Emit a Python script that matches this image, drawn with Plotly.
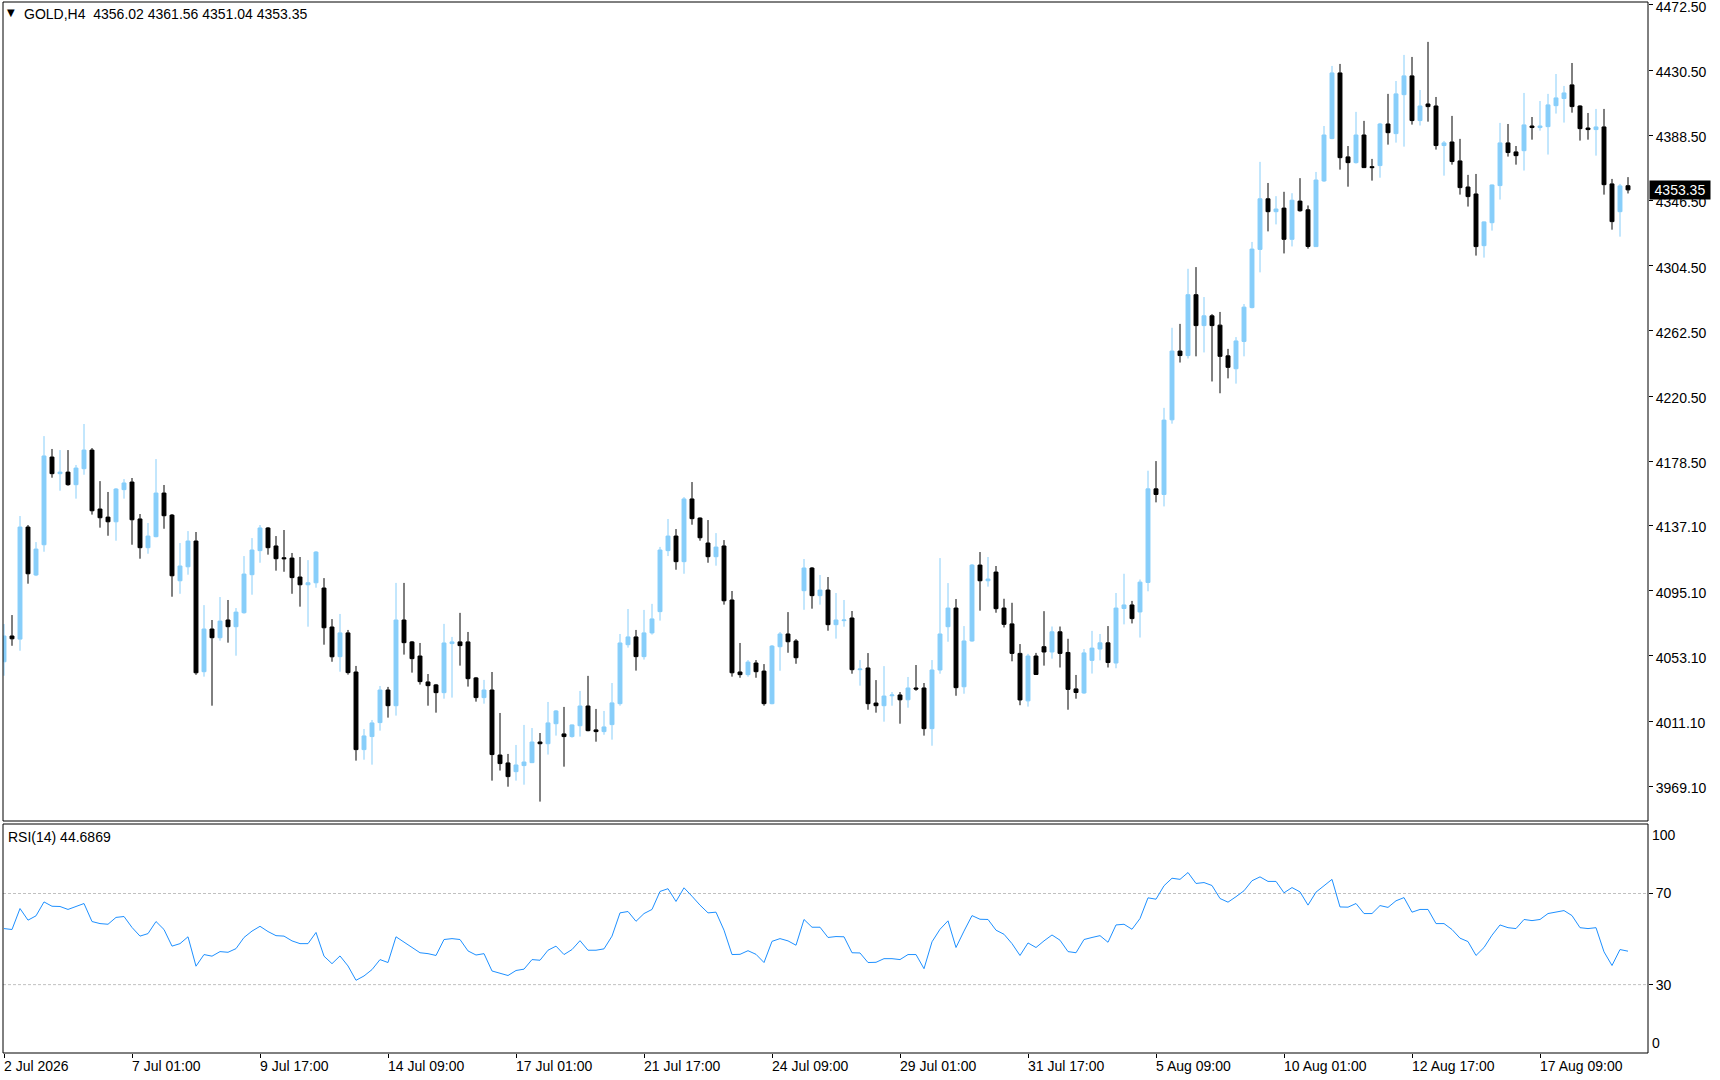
import plotly.graph_objects as go

# ---------------- data ----------------
symbol_header = "GOLD,H4  4356.02 4361.56 4351.04 4353.35"
rsi_header = "RSI(14) 44.6869"
last_price = 4353.35
last_price_text = "4353.35"

opens = [4049.3,4065.9,4063.9,4136.1,4105.2,4124.7,4181.2,4170.5,4171.5,4163.4,
         4173.7,4185.7,4147.7,4142.5,4139.5,4160.2,4165.1,4141.3,4122.8,4129.9,
         4158.0,4143.8,4101.5,4110.5,4127.1,4042.9,4070.4,4064.8,4076.2,4071.9,
         4080.9,4105.4,4120.9,4135.5,4123.9,4116.3,4116.1,4103.9,4098.9,4100.2,
         4096.8,4071.7,4052.6,4067.9,4042.7,3992.7,4001.1,4010.1,4031.1,4021.0,
         4076.2,4062.1,4053.0,4036.3,4034.4,4029.4,4061.0,4062.1,4062.1,4038.9,
         4026.2,4031.1,3989.2,3984.1,3978.5,3982.4,3984.3,3997.6,3996.5,4009.4,
         4002.8,4001.1,4008.1,4020.8,4005.4,4004.3,4008.8,4022.3,4060.3,4065.3,
         4052.6,4067.9,4081.6,4120.9,4130.3,4113.8,4154.2,4141.9,4125.8,4117.0,
         4123.9,4089.1,4042.7,4041.0,4048.5,4043.3,4022.3,4059.0,4067.2,4062.7,
         4095.1,4109.7,4091.9,4095.5,4073.2,4075.8,4077.5,4044.2,4045.3,4022.7,
         4021.0,4027.4,4027.9,4024.8,4032.4,4032.4,4006.2,4044.0,4071.9,4083.9,
         4033.2,4062.7,4111.6,4101.5,4107.1,4083.9,4073.7,4054.7,4024.1,4053.0,
         4059.0,4055.6,4068.6,4055.3,4031.8,4029.2,4050.2,4057.5,4061.5,4048.5,
         4083.6,4085.9,4081.4,4100.4,4160.7,4157.1,4205.2,4249.5,4246.6,4285.8,
         4265.9,4272.2,4266.2,4246.4,4238.1,4255.7,4277.5,4315.0,4347.6,4339.3,
         4341.6,4321.5,4346.1,4340.5,4316.8,4359.1,4386.4,4428.7,4374.6,4370.9,
         4388.7,4368.3,4369.0,4395.8,4389.6,4414.7,4426.8,4398.0,4408.7,4407.4,
         4381.9,4384.2,4372.0,4355.2,4350.7,4317.4,4332.2,4356.1,4383.6,4377.8,
         4378.6,4394.5,4393.5,4394.1,4407.6,4412.2,4421.0,4407.4,4393.2,4392.2,
         4393.9,4357.2,4339.3,4356.02]
highs = [4073.6,4079.4,4143.2,4137.4,4126.4,4194.7,4186.4,4185.7,4185.7,4176.1,
         4202.5,4187.0,4165.7,4158.7,4161.2,4167.0,4167.7,4144.5,4138.7,4179.9,
         4163.2,4144.5,4125.8,4133.5,4132.9,4085.8,4076.2,4091.0,4089.1,4083.9,
         4117.4,4129.0,4137.4,4136.1,4130.3,4134.2,4119.4,4116.8,4114.8,4120.6,
         4103.2,4076.8,4080.1,4069.8,4046.6,4006.0,4011.8,4033.7,4033.1,4100.1,
         4100.1,4062.7,4061.4,4041.4,4035.0,4073.7,4065.3,4080.8,4068.5,4039.5,
         4037.6,4042.7,4016.3,3989.9,3995.7,4008.6,4006.6,4003.4,4023.4,4018.2,
         4020.2,4008.9,4030.5,4040.2,4018.9,4017.6,4035.6,4067.2,4083.3,4069.8,
         4082.7,4086.6,4123.3,4141.3,4134.8,4155.4,4165.1,4142.3,4140.6,4132.2,
         4127.7,4094.9,4061.4,4050.4,4050.4,4047.8,4060.1,4068.5,4081.3,4063.9,
         4115.5,4110.3,4105.2,4103.9,4093.6,4089.1,4082.0,4050.4,4054.9,4037.5,
         4046.5,4029.8,4029.8,4039.5,4047.2,4035.6,4050.4,4116.1,4100.0,4089.7,
         4072.3,4112.3,4120.0,4116.8,4111.0,4089.9,4087.3,4060.7,4054.4,4055.0,
         4081.9,4072.0,4072.0,4064.1,4040.8,4057.5,4069.2,4067.2,4072.3,4093.6,
         4106.0,4088.5,4102.3,4172.4,4178.6,4212.9,4264.5,4267.0,4302.5,4303.6,
         4284.3,4273.3,4274.7,4250.9,4258.5,4279.8,4319.8,4371.4,4357.8,4349.3,
         4352.1,4351.2,4360.9,4343.3,4364.9,4394.5,4433.2,4434.5,4381.6,4403.6,
         4397.8,4373.3,4396.5,4415.2,4423.5,4440.3,4439.0,4417.7,4448.7,4413.2,
         4384.9,4401.0,4386.2,4363.0,4363.6,4333.0,4356.8,4396.5,4395.8,4381.6,
         4415.8,4400.3,4410.6,4415.2,4428.0,4420.3,4435.1,4407.8,4402.9,4405.5,
         4405.5,4360.4,4357.2,4361.56]
lows = [4040.3,4059.6,4056.4,4099.6,4104.5,4120.2,4167.9,4159.5,4162.7,4154.4,
        4169.8,4144.1,4135.7,4130.5,4127.3,4154.4,4124.7,4115.7,4118.9,4129.5,
        4135.0,4091.2,4093.1,4105.4,4040.9,4039.7,4021.0,4062.9,4061.6,4053.2,
        4080.3,4092.5,4113.1,4118.3,4108.0,4107.3,4093.1,4084.8,4071.9,4097.0,
        4060.3,4049.3,4042.9,4041.0,3985.6,3986.2,3983.0,4004.9,4013.3,4014.6,
        4053.9,4042.3,4034.6,4021.0,4016.5,4025.5,4026.2,4046.8,4033.3,4023.6,
        4022.3,3972.7,3979.2,3968.8,3972.7,3970.1,3984.0,3959.2,3989.5,4001.7,
        3981.7,4000.4,4001.1,4004.5,3997.8,4002.3,3999.1,4021.0,4058.4,4043.6,
        4050.7,4066.8,4075.8,4117.4,4108.6,4106.0,4137.6,4127.3,4113.1,4111.2,
        4086.1,4039.7,4039.0,4039.7,4039.0,4021.0,4021.9,4043.5,4055.1,4048.0,
        4082.8,4083.5,4086.1,4069.3,4064.2,4071.9,4041.6,4033.9,4018.4,4016.5,
        4010.7,4021.0,4009.4,4019.7,4030.6,4001.7,3995.2,4041.6,4062.2,4027.4,
        4028.7,4062.2,4082.2,4097.7,4080.9,4071.4,4049.6,4021.3,4020.4,4040.8,
        4046.8,4051.3,4045.6,4018.4,4025.5,4028.6,4041.7,4050.2,4045.6,4045.1,
        4073.4,4074.0,4064.9,4094.7,4152.0,4149.4,4202.7,4242.1,4244.7,4246.1,
        4248.6,4229.9,4222.3,4231.9,4228.5,4246.1,4277.0,4300.2,4326.6,4331.1,
        4312.4,4316.9,4339.3,4315.5,4316.5,4358.5,4386.0,4366.4,4355.4,4370.3,
        4367.4,4359.3,4361.2,4382.5,4383.8,4381.2,4395.4,4394.8,4397.3,4379.3,
        4362.5,4369.6,4350.3,4342.6,4311.0,4309.7,4327.1,4347.1,4374.8,4369.6,
        4365.8,4385.7,4391.5,4376.1,4402.5,4396.7,4403.1,4385.1,4385.7,4375.4,
        4350.3,4327.7,4323.2,4351.04]
closes = [4065.9,4064.1,4136.1,4106.0,4121.9,4181.9,4170.5,4171.5,4163.4,4174.1,
          4185.7,4146.6,4142.1,4139.5,4160.6,4164.5,4140.8,4122.8,4130.3,4158.0,
          4143.4,4104.7,4111.0,4127.1,4042.2,4070.4,4064.8,4075.5,4071.9,4081.3,
          4105.8,4121.3,4135.5,4122.8,4115.7,4115.7,4103.5,4098.9,4100.2,4120.0,
          4071.2,4052.5,4067.9,4042.3,3992.7,4001.5,4009.9,4031.1,4021.0,4076.2,
          4061.6,4051.3,4036.5,4033.9,4029.4,4061.4,4062.1,4059.7,4038.4,4026.2,
          4031.1,3989.5,3983.7,3975.3,3982.8,3984.7,3997.6,3996.5,4009.9,4017.6,
          4001.1,4008.6,4020.8,4004.9,4004.3,4007.3,4022.8,4061.4,4065.3,4052.6,
          4067.9,4076.9,4121.3,4130.3,4113.8,4154.2,4141.5,4129.2,4117.0,4123.2,
          4088.6,4042.2,4041.0,4049.1,4042.9,4022.3,4059.4,4067.2,4062.2,4051.9,
          4109.7,4091.9,4095.5,4073.2,4076.2,4076.2,4044.2,4044.6,4022.3,4021.0,
          4027.2,4027.9,4024.8,4032.4,4031.7,4006.2,4044.0,4067.2,4083.9,4032.6,
          4062.7,4111.6,4101.5,4102.6,4083.5,4073.4,4054.7,4024.7,4053.0,4041.1,
          4055.6,4068.6,4054.7,4031.5,4029.5,4055.0,4058.1,4061.5,4048.8,4083.9,
          4085.9,4077.1,4100.6,4160.7,4157.1,4205.0,4249.5,4246.6,4285.8,4265.9,
          4272.2,4265.9,4246.1,4239.0,4256.0,4277.8,4315.2,4347.6,4339.3,4341.0,
          4321.5,4346.7,4339.9,4316.9,4359.7,4388.7,4428.7,4374.1,4370.9,4388.7,
          4367.7,4367.7,4395.8,4390.2,4415.2,4426.8,4398.0,4407.4,4407.0,4381.9,
          4383.6,4371.6,4354.8,4349.0,4316.8,4332.7,4356.5,4383.6,4377.4,4375.4,
          4395.2,4393.5,4394.5,4408.1,4412.6,4415.8,4407.0,4392.8,4392.2,4393.9,
          4356.7,4332.9,4355.9,4353.35]
rsi = [54.6,54.2,63.4,58.3,60.2,66.3,64.4,64.3,63.0,64.4,
       65.6,57.7,56.8,56.5,59.5,59.9,55.1,51.3,52.4,57.7,
       54.2,46.9,48.0,51.0,38.1,43.2,42.5,44.5,44.2,45.8,
       50.7,53.5,55.6,53.3,51.5,51.3,49.2,48.0,48.0,52.9,
       42.5,39.2,42.6,38.2,31.9,33.8,36.6,41.0,39.7,51.0,
       48.6,46.5,44.0,43.6,42.8,49.8,50.2,49.8,44.8,43.0,
       43.6,36.0,35.1,34.0,36.2,36.8,41.0,40.7,45.1,46.9,
       43.2,45.4,49.3,45.1,45.1,45.7,51.3,61.5,62.1,57.8,
       61.2,63.0,70.9,72.1,66.5,72.5,68.8,64.9,61.5,61.8,
       53.9,43.2,43.3,44.9,43.3,39.7,49.0,50.2,49.2,47.3,
       58.6,55.2,55.2,50.7,51.1,51.0,44.0,43.9,39.7,39.8,
       41.4,41.4,41.0,43.2,43.2,37.0,48.8,54.3,58.0,46.3,
       53.5,60.3,58.7,58.6,53.9,52.1,48.0,42.8,48.3,46.3,
       49.2,51.8,49.5,44.5,44.0,49.8,50.7,51.5,48.6,56.2,
       56.5,54.3,59.0,68.1,67.5,73.4,76.7,76.2,79.2,74.4,
       74.8,73.5,67.8,66.2,68.6,71.2,75.6,77.3,75.3,75.3,
       70.3,72.6,70.7,64.9,70.6,73.2,76.2,64.1,64.0,65.6,
       61.2,61.2,64.7,63.9,66.8,68.2,61.8,63.0,63.0,56.8,
       56.8,54.2,50.4,48.9,42.8,46.3,51.7,56.2,55.0,54.6,
       58.6,58.1,58.6,61.2,61.9,62.5,60.3,55.0,54.6,55.0,
       44.4,38.4,45.4,44.6869]

bars = list(range(len(closes)))

time_tick_bars = [0, 16, 32, 48, 64, 80, 96, 112, 128, 144, 160, 176, 192]
time_tick_text = ["2 Jul 2026", "7 Jul 01:00", "9 Jul 17:00", "14 Jul 09:00",
                  "17 Jul 01:00", "21 Jul 17:00", "24 Jul 09:00", "29 Jul 01:00",
                  "31 Jul 17:00", "5 Aug 09:00", "10 Aug 01:00", "12 Aug 17:00",
                  "17 Aug 09:00"]
price_tick_vals = [4472.50, 4430.50, 4388.50, 4346.50, 4304.50, 4262.50, 4220.50,
                   4178.50, 4137.10, 4095.10, 4053.10, 4011.10, 3969.10]
price_tick_text = ["4472.50", "4430.50", "4388.50", "4346.50", "4304.50", "4262.50",
                   "4220.50", "4178.50", "4137.10", "4095.10", "4053.10", "4011.10",
                   "3969.10"]
rsi_levels = [30, 70]
rsi_level_text = ["30", "70"]
rsi_min, rsi_max = 0, 100

# ---------------- style ----------------
FONT = "Liberation Sans, Arial, sans-serif"
BULL = "#87CEFA"
BEAR = "#000000"
RSI_COLOR = "#1E90FF"
W, H = 1720, 1080
ML, MR, MT, MB = 3, 72, 2, 27
plot_h = H - MT - MB
main_bottom_px = 821
rsi_top_px = 824
main_domain = [(H - MB - main_bottom_px) / plot_h, 1.0]
rsi_domain = [0.0, (H - MB - rsi_top_px) / plot_h]

fig = go.Figure()
fig.add_trace(go.Candlestick(
    x=bars, open=opens, high=highs, low=lows, close=closes,
    increasing=dict(line=dict(color=BULL, width=1), fillcolor=BULL),
    decreasing=dict(line=dict(color=BEAR, width=1), fillcolor=BEAR),
    whiskerwidth=0, hoverinfo="skip", xaxis="x", yaxis="y", showlegend=False,
))
fig.add_trace(go.Scatter(
    x=bars, y=rsi, mode="lines", line=dict(color=RSI_COLOR, width=1),
    xaxis="x2", yaxis="y2", hoverinfo="skip", showlegend=False,
))

xrange = [-0.125, -0.125 + (W - ML - MR) / 8.0]

shapes = []
for lv in rsi_levels:
    shapes.append(dict(type="line", xref="x2 domain", x0=0, x1=1, yref="y2", y0=lv, y1=lv,
                       line=dict(color="#C0C0C0", width=1, dash="3px,2px"), layer="below"))
for yd in ["y domain", "y2 domain"]:
    shapes.append(dict(type="rect", xref="paper", x0=0, x1=1, yref=yd, y0=0, y1=1,
                       line=dict(color="black", width=1), fillcolor="rgba(0,0,0,0)"))

annotations = []
annotations.append(dict(text="▼", xref="paper", x=0, xanchor="left", xshift=2,
                        yref="paper", y=1, yanchor="top", yshift=-3, showarrow=False,
                        font=dict(family="DejaVu Sans", size=10, color="black")))
annotations.append(dict(text=symbol_header, xref="paper", x=0, xanchor="left", xshift=19,
                        yref="paper", y=1, yanchor="top", yshift=-2, showarrow=False,
                        font=dict(family=FONT, size=14, color="black")))
annotations.append(dict(text=rsi_header, xref="paper", x=0, xanchor="left", xshift=3,
                        yref="y2 domain", y=1, yanchor="top", yshift=-3, showarrow=False,
                        font=dict(family=FONT, size=14, color="black")))
for b, t in zip(time_tick_bars, time_tick_text):
    annotations.append(dict(text=t, xref="x2", x=b, xanchor="left", xshift=-2,
                            yref="paper", y=0, yanchor="top", yshift=-3, showarrow=False,
                            font=dict(family=FONT, size=14, color="black")))
annotations.append(dict(text=str(rsi_max), xref="paper", x=1, xanchor="left", xshift=2,
                        yref="y2", y=rsi_max, yanchor="top", yshift=0, showarrow=False,
                        font=dict(family=FONT, size=14, color="black")))
annotations.append(dict(text=str(rsi_min), xref="paper", x=1, xanchor="left", xshift=2,
                        yref="y2", y=rsi_min, yanchor="bottom", yshift=0, showarrow=False,
                        font=dict(family=FONT, size=14, color="black")))
annotations.append(dict(text=last_price_text, xref="paper", x=1, xanchor="left", xshift=1,
                        yref="y", y=last_price, yanchor="middle", showarrow=False,
                        bgcolor="black", borderpad=1, width=58, align="center",
                        font=dict(family=FONT, size=14, color="white")))

fig.update_layout(
    width=W, height=H, margin=dict(l=ML, r=MR, t=MT, b=MB, pad=0, autoexpand=False),
    paper_bgcolor="white", plot_bgcolor="white",
    showlegend=False, boxgap=0.3, boxgroupgap=0.3,
    xaxis=dict(domain=[0, 1], anchor="y", range=xrange, showticklabels=False,
               showgrid=False, zeroline=False, ticks="", rangeslider=dict(visible=False),
               automargin=False, fixedrange=True),
    yaxis=dict(domain=main_domain, anchor="x", side="right", range=[3946.7, 4474.4],
               tickmode="array", tickvals=price_tick_vals, ticktext=price_tick_text,
               ticks="outside", ticklen=4, tickcolor="black", showgrid=False,
               zeroline=False, showline=False, ticklabeloverflow="allow",
               ticklabelshift=2, automargin=False,
               tickfont=dict(family=FONT, size=14, color="black")),
    xaxis2=dict(domain=[0, 1], anchor="y2", range=xrange, tickmode="array",
                tickvals=time_tick_bars, ticktext=[""] * len(time_tick_bars),
                ticks="outside", ticklen=4, tickcolor="black", showgrid=False,
                zeroline=False, showline=False, matches="x", automargin=False),
    yaxis2=dict(domain=rsi_domain, anchor="x2", side="right", range=[rsi_min, 100.5],
                tickmode="array", tickvals=rsi_levels, ticktext=rsi_level_text,
                ticks="outside", ticklen=4, tickcolor="black", showgrid=False,
                zeroline=False, showline=False, automargin=False,
                tickfont=dict(family=FONT, size=14, color="black")),
    shapes=shapes, annotations=annotations,
)

fig.write_html("out.html", config={"displayModeBar": False, "staticPlot": True},
               post_script="document.body.style.margin='0';document.body.style.overflow='hidden';")
